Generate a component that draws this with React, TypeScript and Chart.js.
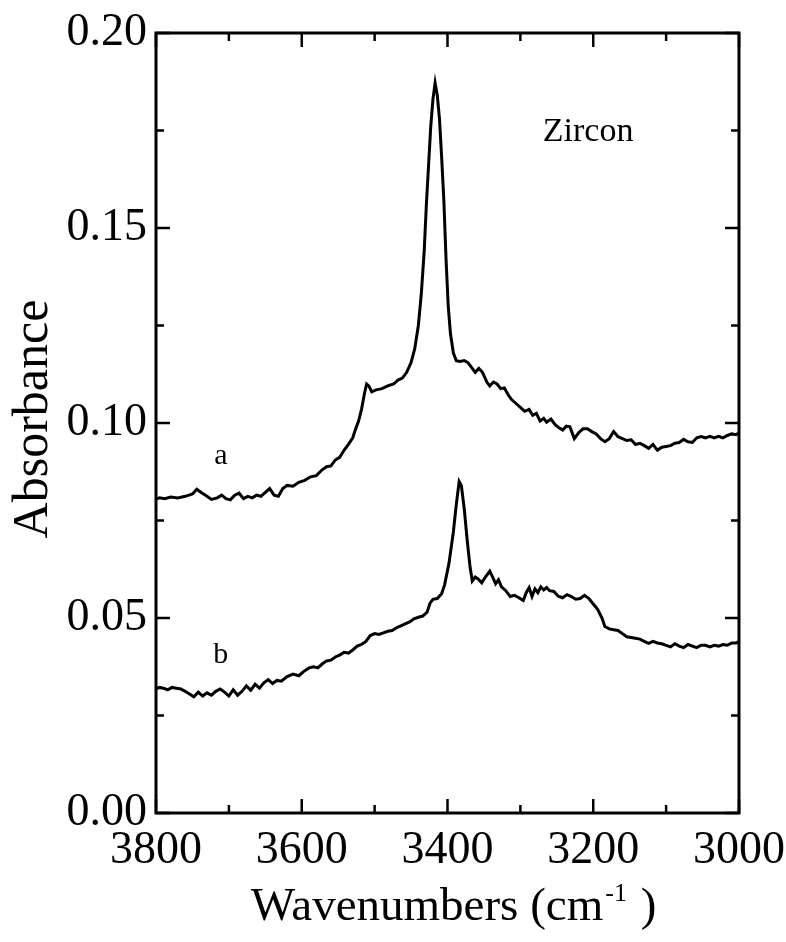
import React, { useEffect, useRef } from "react";
import { Chart, registerables } from "chart.js";

Chart.register(...registerables);

// Spectrum a (wavenumber cm^-1, absorbance)
const wnA = [3800,3795,3788,3780,3770,3760,3750,3744,3738,3730,3724,3716,3710,3704,3698,3692,3686,3680,3674,3668,3662,3656,3650,3644,3638,3632,3626,3620,3612,3604,3596,3588,3580,3572,3566,3560,3554,3548,3542,3536,3530,3526,3522,3518,3514,3511,3508,3504,3498,3490,3482,3474,3468,3462,3456,3450,3445,3440,3436,3432,3429,3426,3423,3420,3417,3414,3411,3408,3405,3402,3399,3396,3392,3388,3383,3377,3372,3366,3362,3357,3352,3346,3342,3337,3332,3327,3322,3316,3312,3306,3300,3294,3288,3283,3278,3273,3268,3264,3258,3252,3247,3242,3237,3232,3226,3220,3214,3208,3202,3196,3190,3184,3178,3172,3166,3160,3154,3148,3142,3136,3130,3124,3118,3112,3106,3100,3094,3088,3082,3076,3070,3064,3058,3052,3046,3040,3034,3028,3022,3016,3010,3004,3000];
const absA = [0.0805,0.0808,0.0806,0.0810,0.0808,0.0812,0.0818,0.0830,0.0822,0.0812,0.0804,0.0808,0.0815,0.0806,0.0803,0.0815,0.0820,0.0806,0.0812,0.0808,0.0815,0.0812,0.0822,0.0832,0.0815,0.0812,0.0832,0.0840,0.0838,0.0848,0.0853,0.0862,0.0865,0.0880,0.0888,0.0890,0.0905,0.0912,0.0930,0.0945,0.0962,0.0985,0.1005,0.1035,0.1075,0.1100,0.1095,0.1080,0.1085,0.1088,0.1095,0.1100,0.1110,0.1115,0.1130,0.1155,0.1190,0.1250,0.1330,0.1440,0.1560,0.1660,0.1760,0.1830,0.1872,0.1840,0.1780,0.1680,0.1570,0.1420,0.1300,0.1230,0.1180,0.1160,0.1158,0.1160,0.1155,0.1140,0.1130,0.1140,0.1130,0.1105,0.1095,0.1105,0.1100,0.1088,0.1090,0.1070,0.1060,0.1050,0.1040,0.1030,0.1035,0.1020,0.1025,0.1005,0.1012,0.1002,0.1010,0.0995,0.0988,0.0982,0.0992,0.0990,0.0960,0.0975,0.0985,0.0985,0.0978,0.0972,0.0960,0.0952,0.0960,0.0978,0.0965,0.0960,0.0955,0.0957,0.0945,0.0948,0.0942,0.0935,0.0945,0.0930,0.0938,0.0940,0.0942,0.0948,0.0950,0.0958,0.0952,0.0950,0.0962,0.0965,0.0962,0.0966,0.0962,0.0966,0.0962,0.0968,0.0972,0.0970,0.0975];

// Spectrum b
const wnB = [3800,3795,3790,3784,3778,3772,3766,3760,3754,3748,3742,3736,3730,3724,3718,3712,3706,3700,3694,3688,3682,3676,3670,3664,3658,3652,3646,3640,3634,3628,3620,3612,3604,3598,3590,3584,3578,3572,3566,3560,3554,3548,3542,3536,3530,3524,3518,3512,3506,3500,3494,3488,3482,3476,3470,3464,3458,3452,3446,3440,3434,3428,3424,3420,3414,3408,3404,3398,3392,3388,3384,3381,3377,3373,3369,3366,3362,3358,3353,3348,3342,3338,3334,3330,3326,3320,3314,3308,3302,3296,3292,3288,3284,3280,3276,3272,3268,3264,3260,3254,3248,3242,3236,3230,3224,3218,3212,3206,3200,3194,3188,3184,3178,3172,3166,3160,3154,3148,3142,3136,3130,3124,3118,3112,3106,3100,3094,3088,3082,3076,3070,3064,3058,3052,3046,3040,3034,3028,3022,3016,3010,3004,3000];
const absB = [0.0318,0.0322,0.0320,0.0316,0.0322,0.0320,0.0318,0.0312,0.0305,0.0298,0.0310,0.0300,0.0308,0.0302,0.0312,0.0318,0.0310,0.0300,0.0316,0.0302,0.0312,0.0326,0.0315,0.0330,0.0320,0.0334,0.0342,0.0332,0.0340,0.0338,0.0350,0.0356,0.0352,0.0362,0.0372,0.0375,0.0372,0.0382,0.0390,0.0392,0.0400,0.0405,0.0412,0.0410,0.0418,0.0428,0.0432,0.0440,0.0455,0.0460,0.0458,0.0462,0.0466,0.0468,0.0475,0.0480,0.0485,0.0490,0.0498,0.0502,0.0505,0.0515,0.0538,0.0548,0.0550,0.0562,0.0585,0.0640,0.0720,0.0790,0.0850,0.0840,0.0780,0.0700,0.0630,0.0595,0.0605,0.0600,0.0590,0.0605,0.0620,0.0605,0.0588,0.0598,0.0580,0.0570,0.0555,0.0558,0.0552,0.0545,0.0565,0.0578,0.0555,0.0575,0.0565,0.0580,0.0572,0.0578,0.0570,0.0568,0.0556,0.0552,0.0560,0.0555,0.0548,0.0550,0.0558,0.0550,0.0536,0.0522,0.0500,0.0478,0.0472,0.0470,0.0468,0.0460,0.0452,0.0450,0.0448,0.0446,0.0440,0.0435,0.0440,0.0436,0.0434,0.0430,0.0426,0.0434,0.0428,0.0424,0.0432,0.0428,0.0424,0.0430,0.0430,0.0426,0.0430,0.0428,0.0432,0.0430,0.0436,0.0436,0.0440];

// Axis settings
const xMin = 3000;
const xMax = 3800;
const xMajor = 200;
const xMinor = 100;
const yMin = 0;
const yMax = 0.2;
const yMajor = 0.05;
const yMinor = 0.025;

// Annotations
const sampleName = "Zircon";
const curveLabels = [
  { text: "a", x: 3711, y: 0.0915 },
  { text: "b", x: 3711, y: 0.0405 },
];
const sampleLabelPos = { x: 3207, y: 0.1747 };
const yTitle = "Absorbance";
const xTitleMain = "Wavenumbers (cm";
const xTitleSup = "-1";
const xTitleEnd = " )";

const SERIF = '"Liberation Serif", "Times New Roman", Times, serif';

const framePlugin = {
  id: "framePlugin",
  afterDraw(chart: any) {
    const { ctx, chartArea, scales } = chart;
    const xs = scales.x;
    const ys = scales.y;
    const { left, right, top, bottom } = chartArea;
    ctx.save();
    ctx.strokeStyle = "#000";
    ctx.lineWidth = 3;
    ctx.strokeRect(left, top, right - left, bottom - top);

    ctx.lineWidth = 2.5;
    const majorLen = 14;
    const minorLen = 8;
    for (let v = xMin; v <= xMax + 1e-6; v += xMinor) {
      const px = xs.getPixelForValue(v);
      const isMajor = Math.abs((v - xMin) % xMajor) < 1e-6;
      const len = isMajor ? majorLen : minorLen;
      ctx.beginPath();
      ctx.moveTo(px, bottom);
      ctx.lineTo(px, bottom - len);
      ctx.moveTo(px, top);
      ctx.lineTo(px, top + len);
      ctx.stroke();
    }
    for (let i = 0; i <= Math.round((yMax - yMin) / yMinor); i++) {
      const v = yMin + i * yMinor;
      const py = ys.getPixelForValue(v);
      const isMajor = i % 2 === 0;
      const len = isMajor ? majorLen : minorLen;
      ctx.beginPath();
      ctx.moveTo(left, py);
      ctx.lineTo(left + len, py);
      ctx.moveTo(right, py);
      ctx.lineTo(right - len, py);
      ctx.stroke();
    }

    ctx.fillStyle = "#000";
    // curve labels
    ctx.font = `30px ${SERIF}`;
    ctx.textAlign = "center";
    ctx.textBaseline = "middle";
    curveLabels.forEach((l) => {
      ctx.fillText(l.text, xs.getPixelForValue(l.x), ys.getPixelForValue(l.y));
    });
    ctx.font = `34px ${SERIF}`;
    ctx.fillText(sampleName, xs.getPixelForValue(sampleLabelPos.x), ys.getPixelForValue(sampleLabelPos.y));

    // y title
    ctx.save();
    ctx.font = `50px ${SERIF}`;
    ctx.translate(47, (top + bottom) / 2 - 4);
    ctx.rotate(-Math.PI / 2);
    ctx.textAlign = "center";
    ctx.textBaseline = "alphabetic";
    ctx.fillText(yTitle, 0, 0);
    ctx.restore();

    // x title with superscript
    ctx.textBaseline = "alphabetic";
    ctx.textAlign = "left";
    const mainFont = `47px ${SERIF}`;
    const supFont = `26px ${SERIF}`;
    ctx.font = mainFont;
    const w1 = ctx.measureText(xTitleMain).width;
    const w3 = ctx.measureText(xTitleEnd).width;
    ctx.font = supFont;
    const w2 = ctx.measureText(xTitleSup).width;
    const total = w1 + w2 + w3 + 4;
    const cx = (left + right) / 2 + 6;
    let sx = cx - total / 2;
    const baseY = 920;
    ctx.font = mainFont;
    ctx.fillText(xTitleMain, sx, baseY);
    sx += w1 + 2;
    ctx.font = supFont;
    ctx.fillText(xTitleSup, sx, baseY - 19);
    sx += w2 + 2;
    ctx.font = mainFont;
    ctx.fillText(xTitleEnd, sx, baseY);
    ctx.restore();
  },
};

export default function App() {
  const canvasRef = useRef<HTMLCanvasElement | null>(null);

  useEffect(() => {
    const canvas = canvasRef.current;
    if (!canvas) return;
    const chart = new Chart(canvas, {
      type: "line",
      data: {
        datasets: [
          {
            label: "a",
            data: wnA.map((x, i) => ({ x, y: absA[i] })),
            borderColor: "#000",
            borderWidth: 3,
            pointRadius: 0,
            tension: 0,
            fill: false,
          },
          {
            label: "b",
            data: wnB.map((x, i) => ({ x, y: absB[i] })),
            borderColor: "#000",
            borderWidth: 3,
            pointRadius: 0,
            tension: 0,
            fill: false,
          },
        ],
      },
      options: {
        animation: false,
        responsive: false,
        maintainAspectRatio: false,
        layout: { padding: { left: 0, top: 33, right: 47, bottom: 0 } },
        plugins: {
          legend: { display: false },
          tooltip: { enabled: false },
          title: { display: false },
        },
        scales: {
          x: {
            type: "linear",
            reverse: true,
            min: xMin,
            max: xMax,
            grid: { display: false, drawTicks: false },
            border: { display: false },
            ticks: {
              stepSize: xMajor,
              autoSkip: false,
              maxRotation: 0,
              padding: 10,
              color: "#000",
              font: { family: SERIF, size: 46 },
              callback: (v: any) => String(v),
            },
            afterFit: (scale: any) => {
              scale.height = 129;
              scale.paddingLeft = 0;
              scale.paddingRight = 0;
            },
          },
          y: {
            type: "linear",
            min: yMin,
            max: yMax,
            grid: { display: false, drawTicks: false },
            border: { display: false },
            ticks: {
              stepSize: yMajor,
              autoSkip: false,
              padding: 9,
              color: "#000",
              font: { family: SERIF, size: 46 },
              callback: (v: any) => Number(v).toFixed(2),
            },
            afterFit: (scale: any) => {
              scale.width = 156;
              scale.paddingTop = 0;
              scale.paddingBottom = 0;
            },
          },
        },
      },
      plugins: [framePlugin],
    });
    return () => chart.destroy();
  }, []);

  return (
    <div style={{ position: "fixed", left: 0, top: 0, width: 786, height: 942, background: "#fff" }}>
      <canvas ref={canvasRef} width={786} height={942} style={{ width: 786, height: 942 }} />
    </div>
  );
}
